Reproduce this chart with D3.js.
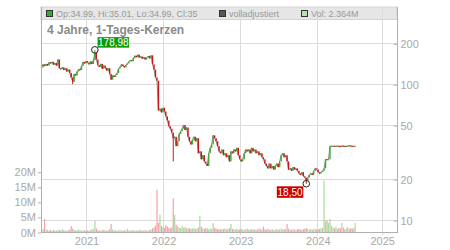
<!DOCTYPE html>
<html>
<head>
<meta charset="utf-8">
<script src="https://cdn.jsdelivr.net/npm/d3@7"></script>
<style>
  body { margin: 0; background: #fff; }
  svg { display: block; font-family: "Liberation Sans", Arial, sans-serif; }
</style>
</head>
<body>
<div id="chart"></div>
<script>
// weekly closes (first week: 2020-06-05)
let startDate = new Date(2020, 5, 5);
let closes = [
  133,140,136,141,137,145,142,146,139,143,
  137,152,131,129,133,127,131,124,128,121,
  112,104,119,116,124,129,127,136,146,142,
  148,144,140,147,141,150,170,152,138,134,
  141,130,137,132,126,131,119,108,116,113,
  117,121,130,134,140,136,133,139,142,147,
  150,148,155,162,158,165,157,160,154,158,
  152,157,161,155,163,140,128,112,106,64,
  66,62,67,63,58,54,49,47,44,40,
  41,35,38,43,45,47,50,46,48,41,
  38,36,39,41,38,40,31,32,28,30,
  27,26,25,31,34,36,42,40,38,35,
  32,31,33,30,31,29,30,27,32,31,
  33,32,34,30,28,27,28,31,33,32,
  33,31,34,32,33,31,32,30,31,29,
  28,26,25,24,26,24,25,23.5,25,26,
  24.5,27,30,31,29,30,27,23.5,24,23,
  24.5,23.5,24,23,22,21.5,22.5,21,20.5,19.5,
  20.5,21.5,22,21.5,23,24,23.5,22.5,22,22.5,
  23,24,28,27.8,28,35,35,35.1,34.9,35,
  35.1,35,34.9,35.2,35,34.9,35,35.1,35.4,35,
  34.99,35,35
];
let firstOpen = 138;

// volume in millions, same weeks
let volumes = [
  0.8,1.0,4.3,0.9,0.6,0.5,0.7,0.4,0.6,0.5,
  0.4,0.7,0.6,0.5,0.9,0.6,0.5,0.4,0.6,0.8,
  2.0,1.2,0.7,0.5,0.6,0.8,0.5,0.4,0.6,0.5,
  0.7,0.5,0.4,0.6,0.9,0.8,3.7,1.2,0.6,0.5,
  0.4,0.6,0.7,0.5,0.4,0.6,0.9,2.7,0.8,0.5,
  0.6,0.4,0.5,0.7,0.5,0.4,0.6,0.5,1.0,0.6,
  0.4,0.5,0.7,0.5,0.4,0.6,0.5,0.7,0.4,0.5,
  0.6,0.5,0.4,0.7,0.8,1.2,1.5,2.2,14,3.0,
  5.7,2.0,1.6,1.3,2.3,1.8,1.4,1.2,1.6,11.2,
  5.7,2.4,1.8,1.5,1.3,2.0,1.4,1.6,1.2,1.1,
  1.3,1.0,1.2,1.4,0.9,1.1,1.5,5.3,1.8,1.2,
  1.0,1.3,1.1,0.9,1.2,1.0,3.0,1.4,1.1,0.9,
  1.0,0.8,1.1,0.9,1.2,0.8,1.0,1.3,2.7,1.0,
  0.9,0.8,1.1,0.7,0.9,1.0,0.8,0.7,0.9,1.1,
  0.8,0.7,1.0,0.8,0.9,0.7,0.8,1.2,0.9,0.8,
  1.8,0.9,0.7,1.0,0.8,0.7,0.9,0.6,0.8,1.0,
  0.7,0.9,1.2,0.8,1.0,0.9,2.7,1.1,0.8,0.7,
  0.9,0.8,0.6,0.9,1.0,0.8,0.7,0.9,1.1,1.3,
  0.9,0.8,1.0,0.7,0.9,1.1,0.8,0.9,1.0,1.2,
  1.4,17,3.5,4.0,3.0,4.3,2.0,1.5,1.2,1.8,
  1.0,1.4,1.2,3.0,1.5,0.9,1.2,1.6,1.0,1.3,
  1.1,1.4,3.0
];

// intraday extremes (week index, value)
let wicks = [
  {i: 21, v: 100},
  {i: 36, v: 178.98},
  {i: 89, v: 27},
  {i: 179, v: 18.50}
];
let highMark = {i: 36, v: 178.98, label: "178,98"};
let lowMark = {i: 179, v: 18.50, label: "18,50"};

let priceTicks = [10, 20, 50, 100, 200];
let volTicks = [0, 5, 10, 15, 20];
let yearTicks = [2021, 2022, 2023, 2024, 2025];

let title = "4 Jahre, 1-Tages-Kerzen";
let legendOHLC = "Op:34.99, Hi:35.01, Lo:34.99, Cl:35";
let legendAdj = "volladjustiert";
let legendVol = "Vol: 2.364M";

////////////////////////////////////////////////////////////////////////

let width = 450, height = 250;
let plotLeft = 41, plotRight = 397, plotTop = 7, plotBottom = 232;

let data = closes.map((c, i) => {
  let open = i === 0 ? firstOpen : closes[i - 1];
  return {
    date: d3.timeDay.offset(startDate, i * 7),
    open: open,
    close: c,
    vol: volumes[i]
  };
});

// time axis: data part is linear, the future part is compressed
let xScale = d3.scaleTime()
  .domain([new Date(2021, 0, 1), new Date(2024, 0, 1), new Date(2024, 6, 1), new Date(2025, 0, 1)])
  .range([86, 317.3, 355.8, 381.7]);

let yScale = d3.scaleLog()
  .domain([10, 200])
  .range([220, 43.3]);

let vScale = d3.scaleLinear()
  .domain([0, 20])
  .range([plotBottom, 171.7]);

let green = "#45a635", red = "#c8161b";
let volGreen = "#a6dc9c", volRed = "#f2a2aa";
let gridColor = "#dcdcdc", axisColor = "#b0b0b0", textColor = "#a8a8a8";

let svg = d3.select("#chart").append("svg")
  .attr("width", width).attr("height", height);

// header strip
svg.append("rect")
  .attr("x", plotLeft).attr("y", plotTop)
  .attr("width", plotRight - plotLeft).attr("height", 12.5)
  .attr("fill", "#e6e6e6")
  .attr("stroke", "#d4d4d4");

// grid
svg.append("g")
  .selectAll("line")
  .data(yearTicks)
  .enter().append("line")
  .attr("x1", d => Math.round(xScale(new Date(d, 0, 1))) + 0.5)
  .attr("x2", d => Math.round(xScale(new Date(d, 0, 1))) + 0.5)
  .attr("y1", plotTop).attr("y2", plotBottom + 3)
  .attr("stroke", gridColor);

svg.append("g")
  .selectAll("line")
  .data(priceTicks)
  .enter().append("line")
  .attr("x1", plotLeft).attr("x2", plotRight)
  .attr("y1", d => Math.round(yScale(d)) + 0.5)
  .attr("y2", d => Math.round(yScale(d)) + 0.5)
  .attr("stroke", gridColor);

// volume bars
svg.append("g")
  .selectAll("rect")
  .data(data)
  .enter().append("rect")
  .attr("x", d => xScale(d.date) - 0.6)
  .attr("width", 1.2)
  .attr("y", d => vScale(d.vol))
  .attr("height", d => plotBottom - vScale(d.vol))
  .attr("fill", d => d.close >= d.open ? volGreen : volRed);

// close line behind the candles
svg.append("path")
  .datum(data)
  .attr("fill", "none")
  .attr("stroke", "#8c8c8c")
  .attr("stroke-width", 1)
  .attr("d", d3.line().x(d => xScale(d.date)).y(d => yScale(d.close)));

// wicks for the extremes
svg.append("g")
  .selectAll("line")
  .data(wicks)
  .enter().append("line")
  .attr("x1", d => xScale(data[d.i].date))
  .attr("x2", d => xScale(data[d.i].date))
  .attr("y1", d => yScale(d.v))
  .attr("y2", d => yScale(data[d.i].close))
  .attr("stroke", d => data[d.i].close >= data[d.i].open ? green : red)
  .attr("stroke-width", 1);

// candles
svg.append("g")
  .selectAll("rect")
  .data(data)
  .enter().append("rect")
  .attr("x", d => xScale(d.date) - 0.7)
  .attr("width", 1.4)
  .attr("y", d => yScale(Math.max(d.open, d.close)))
  .attr("height", d => Math.max(1, yScale(Math.min(d.open, d.close)) - yScale(Math.max(d.open, d.close))))
  .attr("fill", d => d.close >= d.open ? green : red);

// axes lines
svg.append("line")
  .attr("x1", plotLeft + 0.5).attr("x2", plotLeft + 0.5)
  .attr("y1", plotTop).attr("y2", plotBottom)
  .attr("stroke", axisColor);
svg.append("line")
  .attr("x1", plotRight + 0.5).attr("x2", plotRight + 0.5)
  .attr("y1", plotTop).attr("y2", plotBottom)
  .attr("stroke", axisColor);
svg.append("line")
  .attr("x1", plotLeft).attr("x2", plotRight + 1)
  .attr("y1", plotBottom + 0.5).attr("y2", plotBottom + 0.5)
  .attr("stroke", axisColor);

// right price axis
let yAxis = d3.axisRight(yScale)
  .tickValues(priceTicks)
  .tickFormat(d3.format("d"))
  .tickSize(0)
  .tickPadding(3);
let ya = svg.append("g")
  .attr("transform", `translate(${plotRight + 0.5}, 0.5)`)
  .call(yAxis);
ya.select(".domain").remove();
ya.selectAll(".tick").append("line")
  .attr("x1", -4).attr("x2", 0)
  .attr("stroke", axisColor);
ya.selectAll("text")
  .attr("fill", textColor).attr("font-size", 11)
  .attr("font-family", "Liberation Sans, Arial, sans-serif");

// left volume axis
let vAxis = d3.axisLeft(vScale)
  .tickValues(volTicks)
  .tickFormat(d => d + "M")
  .tickSize(3)
  .tickPadding(2);
let va = svg.append("g")
  .attr("transform", `translate(${plotLeft}, 0.5)`)
  .call(vAxis);
va.select(".domain").remove();
va.selectAll("line").attr("stroke", axisColor);
va.selectAll("text")
  .attr("fill", textColor).attr("font-size", 11)
  .attr("font-family", "Liberation Sans, Arial, sans-serif");

// bottom time axis
let xAxis = d3.axisBottom(xScale)
  .tickValues(yearTicks.map(y => new Date(y, 0, 1)))
  .tickFormat(d3.timeFormat("%Y"))
  .tickSize(0)
  .tickPadding(5);
let xa = svg.append("g")
  .attr("transform", `translate(0.5, ${plotBottom})`)
  .call(xAxis);
xa.select(".domain").remove();
xa.selectAll("text")
  .attr("fill", textColor).attr("font-size", 11)
  .attr("font-family", "Liberation Sans, Arial, sans-serif");

// high / low markers
function marker(m, isHigh) {
  let cx = xScale(data[m.i].date);
  let cy = yScale(m.v);
  svg.append("circle")
    .attr("cx", cx).attr("cy", cy).attr("r", 3.3)
    .attr("fill", "none").attr("stroke", "#222").attr("stroke-width", 1);
  let bw = isHigh ? 31.5 : 26.5;
  let bh = isHigh ? 10.5 : 11.5;
  let bx = isHigh ? cx + 2.7 : cx - 3 - bw;
  let by = isHigh ? cy - 12.7 : cy + 2.6;
  svg.append("rect")
    .attr("x", bx).attr("y", by)
    .attr("width", bw).attr("height", bh)
    .attr("fill", isHigh ? "#0a9a0a" : "#cc0000");
  svg.append("text")
    .attr("x", bx + bw / 2).attr("y", by + bh / 2 + 3.5)
    .attr("text-anchor", "middle")
    .attr("fill", "#fff").attr("font-size", 10)
    .text(m.label);
}
marker(highMark, true);
marker(lowMark, false);

// title
svg.append("text")
  .attr("x", 47).attr("y", 34)
  .attr("font-size", 12).attr("font-weight", "bold")
  .attr("fill", "#8a8a8a")
  .text(title);

// header legend
let legend = [
  {x: 46, color: "#3aa83a", text: legendOHLC},
  {x: 219, color: "#555555", text: legendAdj},
  {x: 301, color: "#b6e2ad", text: legendVol}
];
let lg = svg.append("g").selectAll("g").data(legend).enter().append("g");
lg.append("rect")
  .attr("x", d => d.x + 0.5).attr("y", 10.5)
  .attr("width", 6).attr("height", 6)
  .attr("fill", d => d.color).attr("stroke", "#333");
lg.append("text")
  .attr("x", d => d.x + 10).attr("y", 17)
  .attr("font-size", 9)
  .attr("fill", "#999")
  .text(d => d.text);
</script>
</body>
</html>
